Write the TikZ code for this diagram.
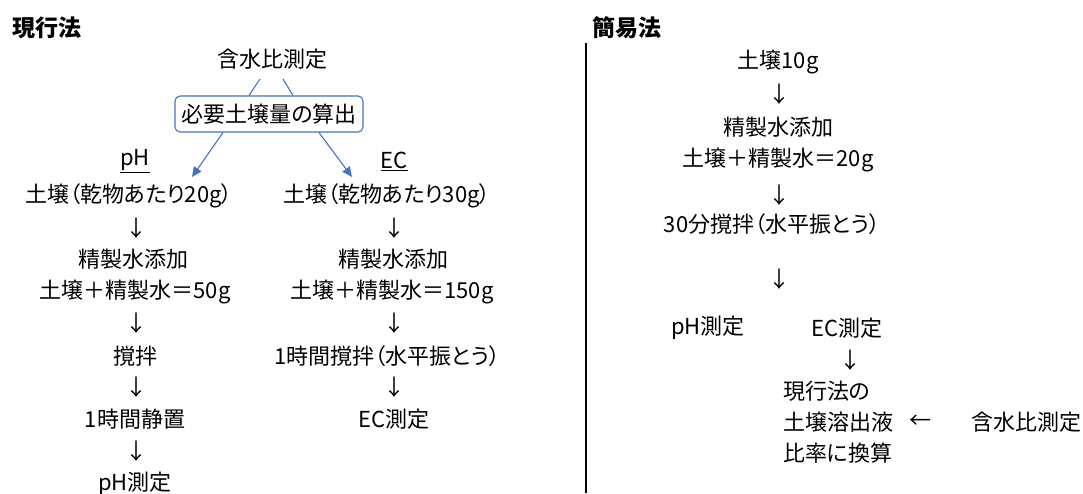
\documentclass[tikz,border=0pt]{standalone}
\usepackage{fontspec}
\setmainfont[RawFeature=+palt]{Noto Sans CJK JP}
\usetikzlibrary{arrows.meta}
\definecolor{lineblue}{HTML}{4472C4}
\begin{document}
\begin{tikzpicture}[x=1pt,y=-1pt,
  t/.style={inner sep=0pt, font=\fontsize{22}{26}\selectfont, text=black},
  ttl/.style={t, font=\fontsize{23}{27}\selectfont\bfseries, anchor=west},
  blueline/.style={draw=lineblue, line width=1.1pt},
  bluearrow/.style={blueline, -{Triangle[length=10pt,width=9pt]}},
  calcbox/.style={t, draw=lineblue, line width=1.1pt, rounded corners=5pt, minimum width=188pt, minimum height=36pt}]
\useasboundingbox (0,0) rectangle (1083,493);
% titles
\node[ttl] (tgen) at (12,28) {現行法};
\node[ttl] (tkan) at (592,28) {簡易法};
% current method
\node[t] (moist) at (272,59) {含水比測定};
\node[calcbox] (calc) at (269,114) {必要土壌量の算出};
\coordinate (m1) at (260,79);
\coordinate (m2) at (283,79);
\draw[blueline] (m1) -- (calc.north -| 249,0);
\draw[blueline] (m2) -- (calc.north -| 293,0);
\coordinate (aL) at (192,177);
\coordinate (aR) at (352,177);
\draw[bluearrow] ([xshift=-46pt]calc.south) -- (aL);
\draw[bluearrow] ([xshift=50pt]calc.south) -- (aR);
\node[t] (ph) at (135,161) {\underline{pH}};
\node[t] (ec) at (394,161) {\underline{EC}};
% pH column
\node[t] (L1) at (129,196) {土壌（乾物あたり20g）};
\node[t] (La1) at (136,228) {↓};
\node[t] (L2) at (133,259) {精製水添加};
\node[t] (L3) at (135,292) {土壌＋精製水＝50g};
\node[t] (La2) at (136,323) {↓};
\node[t] (L4) at (135,356) {撹拌};
\node[t] (La3) at (136,387) {↓};
\node[t] (L5) at (135,419) {1時間静置};
\node[t] (La4) at (136,451) {↓};
\node[t] (L6) at (135,484) {pH測定};
% EC column
\node[t] (R1) at (387,196) {土壌（乾物あたり30g）};
\node[t] (Ra1) at (394,228) {↓};
\node[t] (R2) at (393,259) {精製水添加};
\node[t] (R3) at (392,292) {土壌＋精製水＝150g};
\node[t] (Ra2) at (394,323) {↓};
\node[t] (R4) at (387,356) {1時間撹拌（水平振とう）};
\node[t] (Ra3) at (394,387) {↓};
\node[t] (R5) at (394,419) {EC測定};
% separator
\coordinate (sepT) at (586,43);
\coordinate (sepB) at (586,493);
\draw[line width=2.5pt, black] (sepT) -- (sepB);
% simplified method
\node[t] (S1) at (778,62) {土壌10g};
\node[t] (Sa1) at (779,94) {↓};
\node[t] (S2) at (778,127) {精製水添加};
\node[t] (S3) at (778,160) {土壌＋精製水＝20g};
\node[t] (Sa2) at (779,195) {↓};
\node[t] (S4) at (772,224) {30分撹拌（水平振とう）};
\node[t] (Sa3) at (779,279) {↓};
\node[t] (S5) at (708,328) {pH測定};
\node[t] (S6) at (847,328) {EC測定};
\node[t] (Sa4) at (850,360) {↓};
\node[t, anchor=west, align=left, font=\fontsize{22}{31}\selectfont] (S7) at (783,422) {現行法の\\土壌溶出液\\比率に換算};
\node[t] (Sl) at (920,422) {←};
\node[t, anchor=west] (S8) at (971,422) {含水比測定};
\end{tikzpicture}
\end{document}
